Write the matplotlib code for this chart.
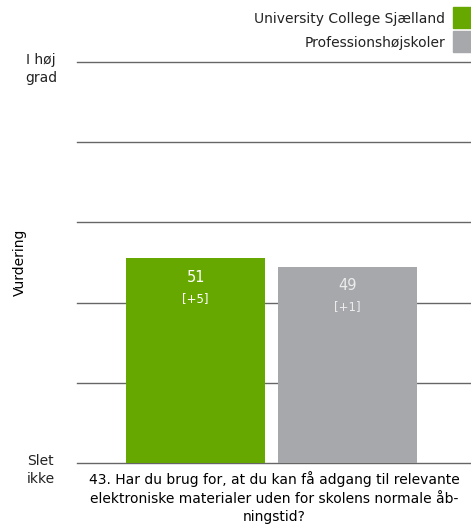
import matplotlib.pyplot as plt
import numpy as np
from matplotlib.patches import Rectangle

plt.rcParams['font.family'] = ['DejaVu Sans']
plt.rcParams['text.color'] = '#222222'

groups = ['University College Sjælland', 'Professionshøjskoler']
values = [51, 49]
changes = ['[+5]', '[+1]']
colors = ['#66a800', '#a7a8ab']
text_colors = ['#ffffff', '#ececec']
scale_labels = ['Slet\nikke', 'I høj\ngrad']
question = ('43. Har du brug for, at du kan få adgang til relevante\n'
            'elektroniske materialer uden for skolens normale åb-\n'
            'ningstid?')

W, H = 471, 526
fig = plt.figure(figsize=(W / 100, H / 100), dpi=100)
ax = fig.add_axes([77 / W, 1 - 463 / H, 1 - 77 / W, (463 - 62) / H])

x = np.arange(len(values))
bars = ax.bar(x, values, width=0.914, color=colors, zorder=3)

ax.set_ylim(0, 100)
ax.set_xlim(-0.78, 1.81)
for y in range(0, 101, 20):
    ax.axhline(y, color='#666666', linewidth=1, zorder=1, clip_on=False)

for b, v, c, tc in zip(bars, values, changes, text_colors):
    cx = b.get_x() + b.get_width() / 2
    ax.annotate(str(v), xy=(cx, v), xytext=(0, -14), textcoords='offset points',
                ha='center', va='center', color=tc, fontsize=10.5)
    ax.annotate(c, xy=(cx, v), xytext=(0, -28.5), textcoords='offset points',
                ha='center', va='center', color=tc, fontsize=8.5)

# scale labels at the ends of the value axis
for yv, lab in zip([0, 100], scale_labels):
    ax.annotate(lab, xy=(0, yv), xycoords=('axes fraction', 'data'),
                xytext=(-26, -5), textcoords='offset points',
                ha='center', va='center', fontsize=10, linespacing=1.3)

for s in ax.spines.values():
    s.set_visible(False)
ax.set_xticks([])
ax.set_yticks([])
ax.set_ylabel('Vurdering', fontsize=10, labelpad=36)
ax.set_xlabel(question, fontsize=10, labelpad=6, linespacing=1.4)

# legend: label to the left of a colour block, top right corner
for i, (g, c) in enumerate(zip(groups, colors)):
    top = 7 + 23.5 * i
    fig.patches.append(Rectangle((453 / W, 1 - (top + 21) / H), 18 / W, 21 / H,
                                 transform=fig.transFigure, color=c))
    fig.text(445 / W, 1 - (top + 12) / H, g, ha='right', va='center', fontsize=10)

fig.savefig('out.png', dpi=100)
